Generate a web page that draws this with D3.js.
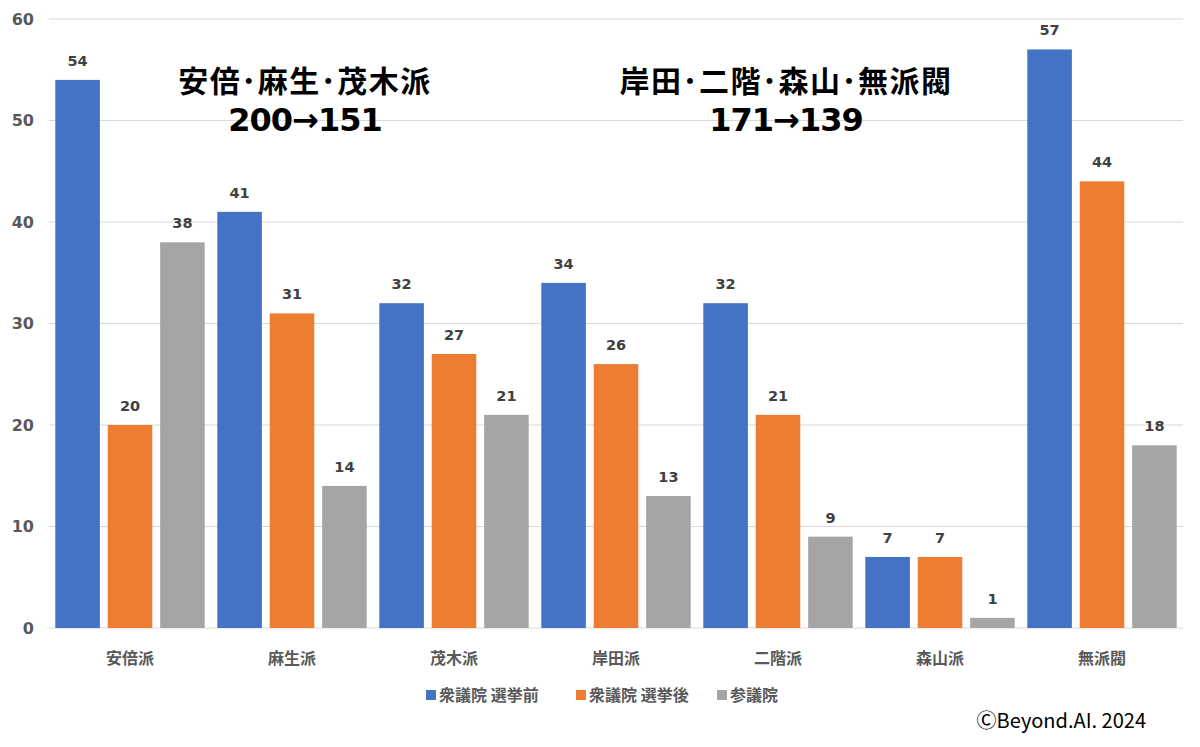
<!DOCTYPE html>
<html><head><meta charset="utf-8">
<script src="https://cdn.jsdelivr.net/npm/d3@7"></script>
<style>body{margin:0;background:#fff}svg{display:block}</style>
</head><body>
<svg id="c" width="1200" height="747"></svg>
<script>
const categories = ["安倍派","麻生派","茂木派","岸田派","二階派","森山派","無派閥"];
const seriesNames = ["衆議院 選挙前","衆議院 選挙後","参議院"];
const before = [54,41,32,34,32,7,57];
const after = [20,31,27,26,21,7,44];
const upper = [38,14,21,13,9,1,18];
const yTicks = [0,10,20,30,40,50,60];
const colors = ["#4472C4","#ED7D31","#A5A5A5"];
const titles = [["安倍･麻生･茂木派","200→151"],["岸田･二階･森山･無派閥","171→139"]];
const credit = "ⒸBeyond.AI. 2024";

const series = [before, after, upper];
const svg = d3.select("#c");
const F = "'DejaVu Sans','Noto Sans CJK JP',sans-serif";
const JF = "'Noto Sans CJK JP',sans-serif";
const x0 = d3.scaleBand().domain(categories).range([49,1183]).paddingInner(0).paddingOuter(0);
const x1 = d3.scaleBand().domain(d3.range(3)).range([0,x0.bandwidth()]).paddingInner(0.15).paddingOuter(0.12);
const y = d3.scaleLinear().domain([0,60]).range([628,19]);

// grid
svg.append("g").selectAll("line").data(yTicks).join("line")
  .attr("x1",49).attr("x2",1183).attr("y1",d=>y(d)).attr("y2",d=>y(d))
  .attr("stroke","#d9d9d9").attr("stroke-width",1.2);
// y labels
svg.append("g").selectAll("text").data(yTicks).join("text")
  .attr("x",34).attr("y",d=>y(d)).attr("dy","0.36em").attr("text-anchor","end")
  .attr("font-family",F).attr("font-weight","bold").attr("font-size",16).attr("fill","#595959")
  .text(d=>d);

// bars
const g = svg.append("g");
series.forEach((vals,si)=>{
  g.append("g").selectAll("rect").data(vals).join("rect")
    .attr("x",(d,i)=>x0(categories[i])+x1(si)).attr("width",x1.bandwidth())
    .attr("y",d=>y(d)).attr("height",d=>y(0)-y(d)).attr("fill",colors[si]);
  g.append("g").selectAll("text").data(vals).join("text")
    .attr("x",(d,i)=>x0(categories[i])+x1(si)+x1.bandwidth()/2)
    .attr("y",d=>y(d)-14).attr("text-anchor","middle")
    .attr("font-family",F).attr("font-weight","bold").attr("font-size",14.5).attr("fill","#404040")
    .text(d=>d);
});

// category labels
svg.append("g").selectAll("text").data(categories).join("text")
  .attr("x",d=>x0(d)+x0.bandwidth()/2).attr("y",664).attr("text-anchor","middle")
  .attr("font-family",JF).attr("font-weight","bold").attr("font-size",16).attr("fill","#595959")
  .text(d=>d);

// titles
const tx = [305,786];
titles.forEach((t,i)=>{
  svg.append("text").attr("x",tx[i]).attr("y",92).attr("text-anchor","middle").attr("font-family",JF)
    .attr("font-weight","bold").attr("font-size",30).attr("letter-spacing",1.5).attr("fill","#000").text(t[0]);
  svg.append("text").attr("x",tx[i]).attr("y",131).attr("text-anchor","middle").attr("font-family",F)
    .attr("font-weight","bold").attr("font-size",32).attr("letter-spacing",-1).attr("fill","#000").text(t[1]);
});

// legend
const lx = [426,576,717];
const lg = svg.append("g");
seriesNames.forEach((n,i)=>{
  lg.append("rect").attr("x",lx[i]).attr("y",690).attr("width",10).attr("height",10).attr("fill",colors[i]);
  lg.append("text").attr("x",lx[i]+13).attr("y",701).attr("font-family",JF).attr("font-weight","bold")
    .attr("font-size",16).attr("fill","#595959").text(n);
});

svg.append("text").attr("x",1146).attr("y",728).attr("text-anchor","end")
  .attr("font-family","'Noto Sans CJK JP',sans-serif").attr("font-size",20).attr("fill","#000").text(credit);
</script>
</body></html>
